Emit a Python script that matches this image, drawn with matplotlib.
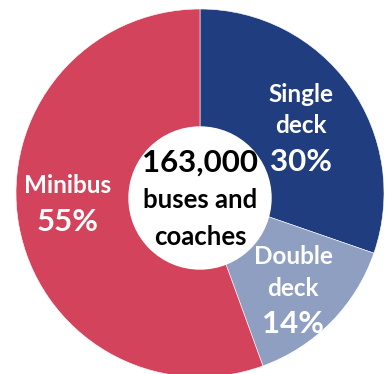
import matplotlib.pyplot as plt
from matplotlib.patches import Circle

# bus and coach fleet by type
categories = ['Single\ndeck', 'Double\ndeck', 'Minibus']
shares = [30, 14, 55]
colors = ['#203d80', '#8f9fc1', '#d4435c']
total_label = '163,000'
total_caption = 'buses and\ncoaches'

plt.rcParams['font.family'] = ['Lato', 'DejaVu Sans']

H = 374
fig = plt.figure(figsize=(3.85, 3.74), dpi=100)
ax = fig.add_axes([0, 0, 1, 1])

cx, cy, r = 200, 181, 184
ax.pie(shares, colors=colors, startangle=90, counterclock=False,
       center=(cx, cy), radius=r, frame=True,
       wedgeprops=dict(edgecolor='white', linewidth=0.4))
ax.set_xlim(0, 385)
ax.set_ylim(0, H)
ax.set_aspect('equal')
ax.axis('off')

# white hole in the middle
ax.add_patch(Circle((cx, cy - 5), 71, color='white', zorder=3))


def lines(x, baselines, text, size, color):
    # one text per line so baselines can be placed exactly (pixels from top)
    for b, s in zip(baselines, text.split('\n')):
        ax.text(x, H - b, s, ha='center', va='baseline', fontsize=size,
                fontweight='bold', color=color, zorder=4)


lines(cx, [172], total_label, 22.5, 'black')
lines(cx, [208, 245], total_caption, 18.5, 'black')

# slice labels: x, baselines of the name lines, baseline of the percent
label_pos = [(301, [102, 133], 171), (293, [264, 296], 333), (68, [193], 231)]
for name, val, (x, nb, pb) in zip(categories, shares, label_pos):
    lines(x, nb, name, 17.5, 'white')
    lines(x, [pb], f'{val}%', 22.5, 'white')

fig.savefig('out.png', dpi=100)
